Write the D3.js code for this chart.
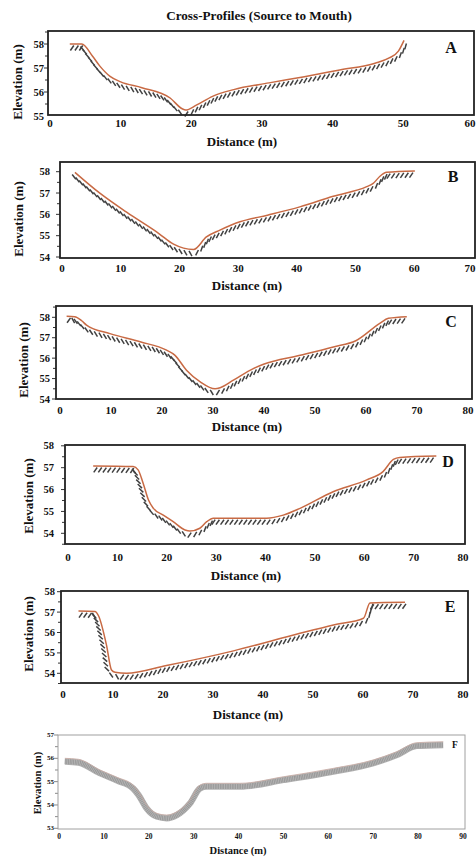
<!DOCTYPE html>
<html>
<head>
<meta charset="utf-8">
<script src="https://cdn.jsdelivr.net/npm/d3@7"></script>
<style>
  body { margin: 0; background: #fff; }
  svg { display: block; }
  text { font-family: "Liberation Serif", "Times New Roman", serif; font-weight: bold; fill: #111; }
</style>
</head>
<body>
<svg id="chart" width="476" height="857"></svg>
<script>
// Surveyed cross-profiles, distance (m) across the channel vs. elevation (m)
const distA = [2.8, 4.5, 6, 7, 8.5, 10, 13, 17, 18.7, 19.2, 20.7, 23, 26, 31, 36, 41, 46, 48, 49.3, 50.1];
const elevA = [58.0, 58.0, 57.5, 57.1, 56.65, 56.42, 56.18, 55.75, 55.3, 55.25, 55.45, 55.82, 56.1, 56.38, 56.64, 56.92, 57.2, 57.42, 57.7, 58.15];

const distB = [2.2, 6.5, 11, 16.5, 19, 22.4, 24.6, 26.9, 30.3, 35, 40.5, 46.2, 51.9, 53, 54.2, 55.3, 60.1];
const elevB = [57.97, 56.98, 56.1, 55.1, 54.6, 54.35, 54.94, 55.26, 55.65, 55.96, 56.35, 56.85, 57.3, 57.45, 57.8, 57.97, 58.03];

const distC = [1.3, 2.9, 4.25, 5.2, 9.8, 15.7, 20.9, 22.5, 24.8, 27.5, 30.4, 31.4, 34, 37.9, 39.9, 47.1, 53.6, 58, 62.7, 64.4, 68];
const elevC = [58.05, 58.03, 57.83, 57.62, 57.2, 56.8, 56.39, 56.15, 55.41, 54.84, 54.5, 54.55, 54.92, 55.49, 55.7, 56.14, 56.55, 56.85, 57.7, 57.95, 58.03];

const distD = [5.1, 13.2, 14.2, 15.2, 16.3, 17.3, 19.3, 21.3, 23.7, 24.7, 26.7, 28.1, 29.4, 40.2, 43.6, 47, 53.7, 60.5, 63.8, 65.9, 67.2, 74.6];
const elevD = [57.08, 57.05, 56.9, 56.3, 55.52, 55.14, 54.83, 54.53, 54.15, 54.1, 54.23, 54.53, 54.69, 54.69, 54.83, 55.14, 55.9, 56.44, 56.82, 57.38, 57.47, 57.53];

const distE = [3.1, 6.4, 7.1, 8.7, 9.7, 10.4, 12.7, 20.7, 34.1, 47.4, 54.1, 60.1, 61.4, 68.4];
const elevE = [57.05, 57.03, 56.82, 55.38, 54.16, 54.05, 54.0, 54.38, 55.1, 55.96, 56.37, 56.7, 57.45, 57.48];

const distF = [1.3, 4.3, 9.1, 13, 16.5, 17.7, 19.5, 21.8, 24, 26.2, 29.2, 31.4, 32.9, 40.3, 50, 61.1, 70, 75.2, 79.7, 85.6];
const elevF = [56.0, 55.96, 55.5, 55.18, 54.85, 54.57, 54.0, 53.64, 53.57, 53.7, 54.21, 54.85, 54.93, 54.93, 55.21, 55.57, 55.93, 56.28, 56.67, 56.71];

// Axis tick values
const xTicks60 = [0, 10, 20, 30, 40, 50, 60];
const xTicks70 = [0, 10, 20, 30, 40, 50, 60, 70];
const xTicks80 = [0, 10, 20, 30, 40, 50, 60, 70, 80];
const xTicks90 = [0, 10, 20, 30, 40, 50, 60, 70, 80, 90];
const yTicks55 = [55, 56, 57, 58];
const yTicks54 = [54, 55, 56, 57, 58];
const yTicks53 = [53, 54, 55, 56, 57];

const chartTitle = "Cross-Profiles (Source to Mouth)";
const xTitle = "Distance (m)";
const yTitle = "Elevation (m)";

// Layout of each panel
const panels = [
  { label: "A", dist: distA, elev: elevA, xt: xTicks60, yt: yTicks55,
    box: { l: 48, r: 474, t: 31, b: 115 }, xDom: [0, 60], xRng: [50, 474], yDom: [55, 58], yRng: [116, 44],
    tickY: 123, yLabR: 44, xTitleY: 141, xTitleX: 242, yTitleX: 17, yTitleY: 82, labX: 451, labY: 47 },
  { label: "B", dist: distB, elev: elevB, xt: xTicks70, yt: yTicks54,
    box: { l: 60, r: 475, t: 162, b: 258 }, xDom: [0, 70], xRng: [62, 473], yDom: [54, 58], yRng: [257, 171.7],
    tickY: 268, yLabR: 50, xTitleY: 285.7, xTitleX: 247, yTitleX: 18, yTitleY: 219, labX: 453, labY: 176 },
  { label: "C", dist: distC, elev: elevC, xt: xTicks80, yt: yTicks54,
    box: { l: 56, r: 472, t: 306, b: 399 }, xDom: [0, 80], xRng: [60, 468], yDom: [54, 58], yRng: [399, 317.3],
    tickY: 410, yLabR: 50, xTitleY: 426, xTitleX: 247, yTitleX: 23, yTitleY: 360, labX: 451, labY: 321 },
  { label: "D", dist: distD, elev: elevD, xt: xTicks80, yt: yTicks54,
    box: { l: 65, r: 465, t: 445, b: 544 }, xDom: [0, 80], xRng: [68, 463], yDom: [54, 58], yRng: [533.3, 445.8],
    tickY: 556.7, yLabR: 54, xTitleY: 575, xTitleX: 246, yTitleX: 28, yTitleY: 496, labX: 448, labY: 461 },
  { label: "E", dist: distE, elev: elevE, xt: xTicks80, yt: yTicks54,
    box: { l: 61, r: 468, t: 591, b: 683 }, xDom: [0, 80], xRng: [63, 463], yDom: [54, 58], yRng: [673.3, 591.7],
    tickY: 694.3, yLabR: 55, xTitleY: 714.3, xTitleX: 248, yTitleX: 28, yTitleY: 634, labX: 450, labY: 606 },
  { label: "F", dist: distF, elev: elevF, xt: xTicks90, yt: yTicks53, light: true,
    box: { l: 58, r: 465, t: 735, b: 829 }, xDom: [0, 90], xRng: [59, 463], yDom: [53, 57], yRng: [828.3, 735],
    tickY: 836.7, yLabR: 54, xTitleY: 850, xTitleX: 238, yTitleX: 37, yTitleY: 783, labX: 455, labY: 745 }
];

const W = 476;
const svg = d3.select("#chart");

svg.append("text")
  .attr("x", 259).attr("y", 15)
  .attr("text-anchor", "middle").attr("dominant-baseline", "central")
  .attr("font-size", 13.2)
  .text(chartTitle);

// Short slanted strokes hung below a ground-surface line
function drawHatch(g, pathNode, style) {
  const L = pathNode.getTotalLength();
  const segs = [];
  for (let s = style.step / 2; s < L - 0.5; s += style.step) {
    const p = pathNode.getPointAtLength(s);
    const a = pathNode.getPointAtLength(Math.max(0, s - 1.5));
    const b = pathNode.getPointAtLength(Math.min(L, s + 1.5));
    let tx = b.x - a.x, ty = b.y - a.y;
    const n = Math.hypot(tx, ty) || 1;
    tx /= n; ty /= n;
    const nx = -ty, ny = tx;                       // normal pointing into the ground
    const theta = Math.atan2(-ty, tx) * 180 / Math.PI;
    const phi = theta >= -4
      ? 55 + 0.3 * Math.max(theta, 0)
      : 180 - (62 - 0.25 * Math.abs(theta));
    const r = phi * Math.PI / 180;
    const dx = Math.cos(r), dy = -Math.sin(r);
    const cx = p.x + nx * (style.gap + style.len * 0.45);
    const cy = p.y + ny * (style.gap + style.len * 0.45);
    segs.push([cx + dx * style.len / 2, cy + dy * style.len / 2, cx - dx * style.len / 2, cy - dy * style.len / 2]);
  }
  g.selectAll("line.hatch").data(segs).join("line")
    .attr("class", "hatch")
    .attr("x1", d => d[0]).attr("y1", d => d[1])
    .attr("x2", d => d[2]).attr("y2", d => d[3])
    .attr("stroke", style.color).attr("stroke-width", style.width)
    .attr("stroke-linecap", "butt");
}

panels.forEach(pn => {
  const g = svg.append("g");
  const x = d3.scaleLinear().domain(pn.xDom).range(pn.xRng);
  const y = d3.scaleLinear().domain(pn.yDom).range(pn.yRng);
  const small = !!pn.light;
  const tickFont = small ? 7 : 10.5;

  // y ticks (major with labels, minor at half metres)
  const yMinor = d3.range(pn.yDom[0] - 0.5, pn.yDom[1] + 0.51, 0.5)
    .filter(v => y(v) >= pn.box.t - 0.5 && y(v) <= pn.box.b + 0.5);
  g.selectAll("line.ytick").data(yMinor).join("line")
    .attr("class", "ytick")
    .attr("x1", pn.box.l).attr("x2", d => pn.box.l - (Number.isInteger(d) ? 4 : 3))
    .attr("y1", d => y(d)).attr("y2", d => y(d))
    .attr("stroke", small ? "#888" : "#333").attr("stroke-width", 1);

  g.selectAll("text.ylab").data(pn.yt).join("text")
    .attr("class", "ylab")
    .attr("x", pn.yLabR).attr("y", d => y(d))
    .attr("text-anchor", "end").attr("dominant-baseline", "central")
    .attr("font-size", tickFont)
    .text(d => d);

  // x tick labels; the last one is kept inside the page edge
  const xf = small ? 7.5 : 11;
  g.selectAll("text.xlab").data(pn.xt).join("text")
    .attr("class", "xlab")
    .attr("x", d => Math.min(x(d), W - 0.5 - xf * 0.5))
    .attr("y", pn.tickY)
    .attr("text-anchor", "middle").attr("dominant-baseline", "central")
    .attr("font-size", xf)
    .text(d => d);

  g.append("text")
    .attr("x", pn.xTitleX).attr("y", pn.xTitleY)
    .attr("text-anchor", "middle").attr("dominant-baseline", "central")
    .attr("font-size", small ? 10.5 : 13)
    .text(xTitle);

  g.append("text")
    .attr("transform", `translate(${pn.yTitleX},${pn.yTitleY}) rotate(-90)`)
    .attr("text-anchor", "middle").attr("dominant-baseline", "central")
    .attr("font-size", small ? 10.8 : 13)
    .text(yTitle);

  g.append("text")
    .attr("x", pn.labX).attr("y", pn.labY)
    .attr("text-anchor", "middle").attr("dominant-baseline", "central")
    .attr("font-size", small ? 9.5 : 16)
    .text(pn.label);

  const pts = pn.dist.map((d, i) => [d, pn.elev[i]]);
  const line = d3.line().x(d => x(d[0])).y(d => y(d[1])).curve(d3.curveMonotoneX);

  if (!small) {
    const hg = g.append("g");
    const path = g.append("path")
      .datum(pts)
      .attr("d", line)
      .attr("fill", "none")
      .attr("stroke", "#c86a44")
      .attr("stroke-width", 1.5)
      .attr("stroke-linejoin", "round");
    drawHatch(hg, path.node(), { step: 4.6, len: 6, gap: 1.3, color: "#404040", width: 1.5 });
  } else {
    // Profile F: broad stippled band under a thin surface line
    const band = g.append("g").attr("transform", "translate(0,3.2)");
    band.append("path").datum(pts).attr("d", line)
      .attr("fill", "none").attr("stroke", "#b2b2b2").attr("stroke-width", 6.4)
      .attr("stroke-linejoin", "round");
    band.append("path").datum(pts).attr("d", line)
      .attr("fill", "none").attr("stroke", "#8e8e8e").attr("stroke-width", 5)
      .attr("stroke-dasharray", "0.6 1.1").attr("stroke-linejoin", "round");
    g.append("path").datum(pts).attr("d", line)
      .attr("fill", "none").attr("stroke", "#c8aaa2").attr("stroke-width", 0.8);
  }

  // frame
  g.append("rect")
    .attr("x", pn.box.l).attr("y", pn.box.t)
    .attr("width", pn.box.r - pn.box.l).attr("height", pn.box.b - pn.box.t)
    .attr("fill", "none")
    .attr("stroke", small ? "#a0a0a0" : "#222")
    .attr("stroke-width", small ? 1 : 1.8);
});
</script>
</body>
</html>
